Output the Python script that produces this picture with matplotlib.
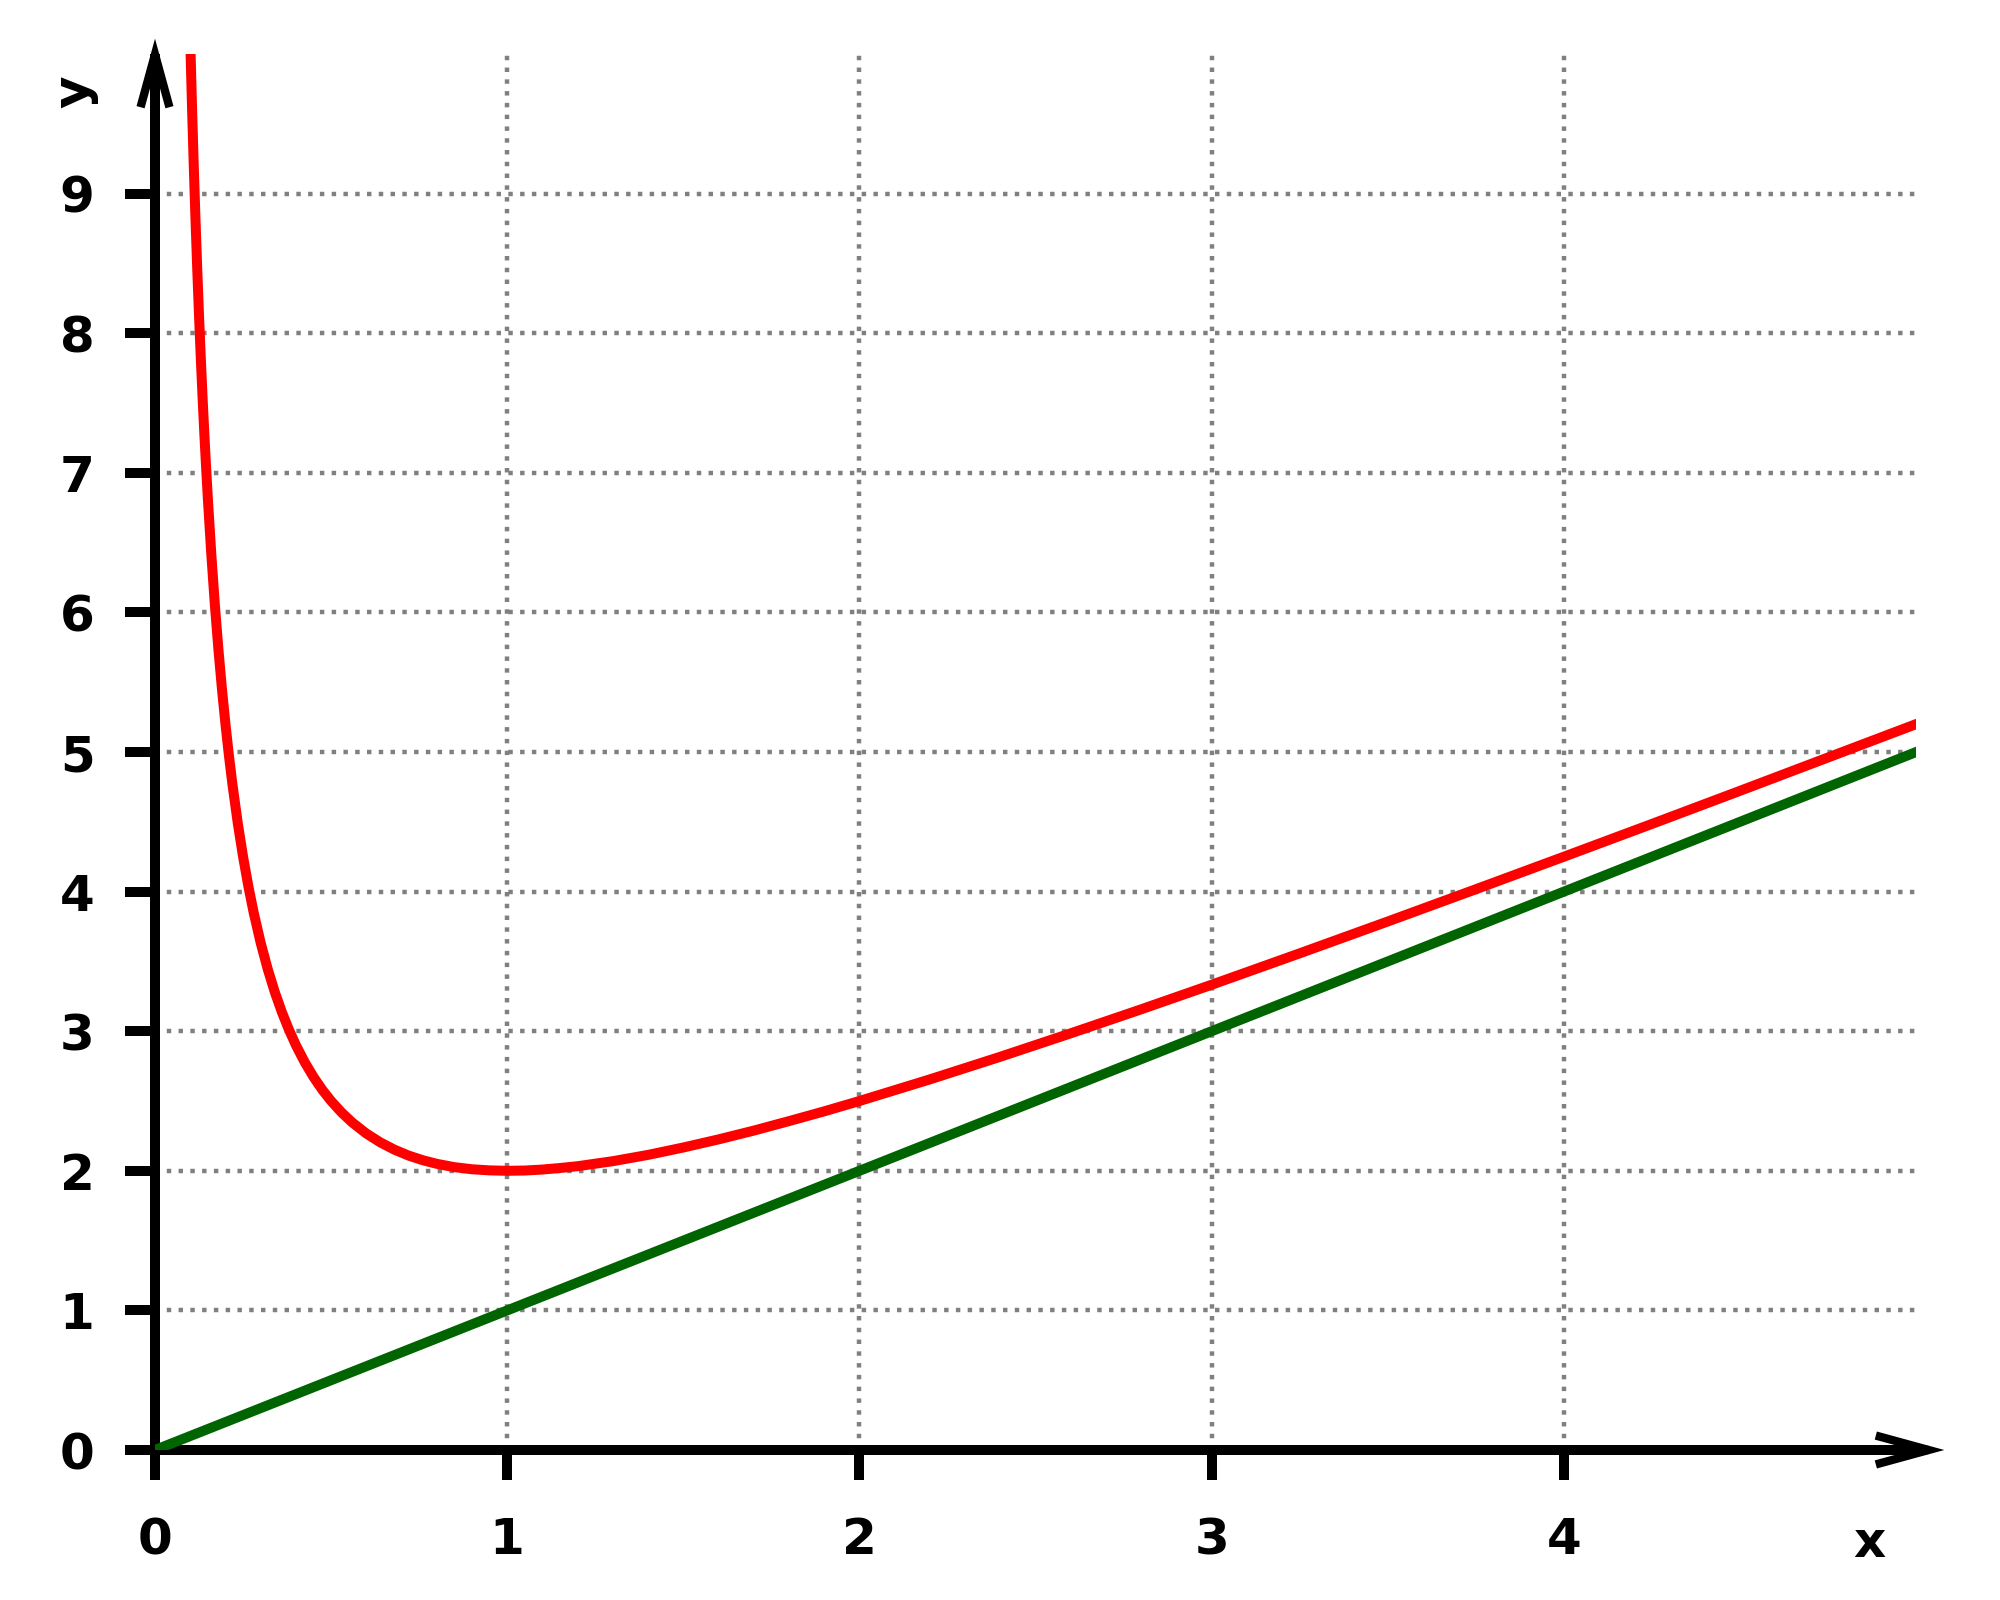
import matplotlib
matplotlib.use("Agg")
import matplotlib.pyplot as plt

# Data
red_x = [0.100, 0.105, 0.110, 0.115, 0.120, 0.125, 0.130, 0.135, 0.140, 0.145,
         0.150, 0.160, 0.170, 0.180, 0.190, 0.200, 0.210, 0.220, 0.235, 0.250,
         0.265, 0.280, 0.300, 0.320, 0.340, 0.360, 0.380, 0.400, 0.425, 0.450,
         0.475, 0.500, 0.530, 0.560, 0.600, 0.640, 0.680, 0.720, 0.760, 0.800,
         0.850, 0.900, 0.950, 1.000, 1.050, 1.100, 1.150, 1.200, 1.300, 1.400,
         1.500, 1.600, 1.700, 1.800, 1.900, 2.000, 2.200, 2.400, 2.600, 2.800,
         3.000, 3.250, 3.500, 3.750, 4.000, 4.250, 4.500, 4.750, 5.000]
red_y = [10.100, 9.629, 9.201, 8.811, 8.453, 8.125, 7.822, 7.542, 7.283, 7.042,
         6.817, 6.410, 6.052, 5.736, 5.453, 5.200, 4.972, 4.765, 4.490, 4.250,
         4.039, 3.851, 3.633, 3.445, 3.281, 3.138, 3.012, 2.900, 2.778, 2.672,
         2.580, 2.500, 2.417, 2.346, 2.267, 2.203, 2.151, 2.109, 2.076, 2.050,
         2.026, 2.011, 2.003, 2.000, 2.002, 2.009, 2.020, 2.033, 2.069, 2.114,
         2.167, 2.225, 2.288, 2.356, 2.426, 2.500, 2.655, 2.817, 2.985, 3.157,
         3.333, 3.558, 3.786, 4.017, 4.250, 4.485, 4.722, 4.961, 5.200]
green_x = [0, 1, 2, 3, 4, 5]
green_y = [0, 1, 2, 3, 4, 5]
x_ticks = [0, 1, 2, 3, 4]
y_ticks = [0, 1, 2, 3, 4, 5, 6, 7, 8, 9]

fig = plt.figure(figsize=(10, 8), dpi=200)
ax = fig.add_axes([0.0775, 0.09375, 0.8806, 0.8725])
ax.set_xlim(0, 5)
ax.set_ylim(0, 10)

for s in ["top", "right"]:
    ax.spines[s].set_visible(False)
for s in ["left", "bottom"]:
    ax.spines[s].set_linewidth(3.6)
    ax.spines[s].set_capstyle("butt")

ax.set_xticks(x_ticks)
ax.set_yticks(y_ticks)
ax.tick_params(axis="both", direction="out", length=10.8, width=3.6,
               labelsize=18)
ax.tick_params(axis="x", pad=13)
ax.tick_params(axis="y", pad=11)
for lab in ax.get_xticklabels() + ax.get_yticklabels():
    lab.set_fontweight("bold")

ax.grid(True, linestyle=":", color="#808080", linewidth=1.6)
ax.set_axisbelow(True)

ax.plot(green_x, green_y, color="#006400", linewidth=3.6, zorder=3)
ax.plot(red_x, red_y, color="#ff0000", linewidth=3.6, zorder=4,
        solid_joinstyle="round")

# Axis arrows
arrow_kw = dict(arrowstyle="->,head_length=0.95,head_width=0.26", lw=3.0,
                color="black", mutation_scale=20, shrinkA=0, shrinkB=0,
                joinstyle="miter", capstyle="butt")
ax.annotate("", xy=(5.08, 0), xytext=(4.8, 0), arrowprops=arrow_kw,
            annotation_clip=False)
ax.annotate("", xy=(0, 10.11), xytext=(0, 9.6), arrowprops=arrow_kw,
            annotation_clip=False)

ax.text(0.9736, -0.0666, "x", transform=ax.transAxes, ha="center",
        va="center", fontsize=18, fontweight="bold")
ax.text(-0.046, 0.9728, "y", transform=ax.transAxes, ha="center",
        va="center", fontsize=18, fontweight="bold", rotation=90)

fig.savefig("out.png", dpi=200)
